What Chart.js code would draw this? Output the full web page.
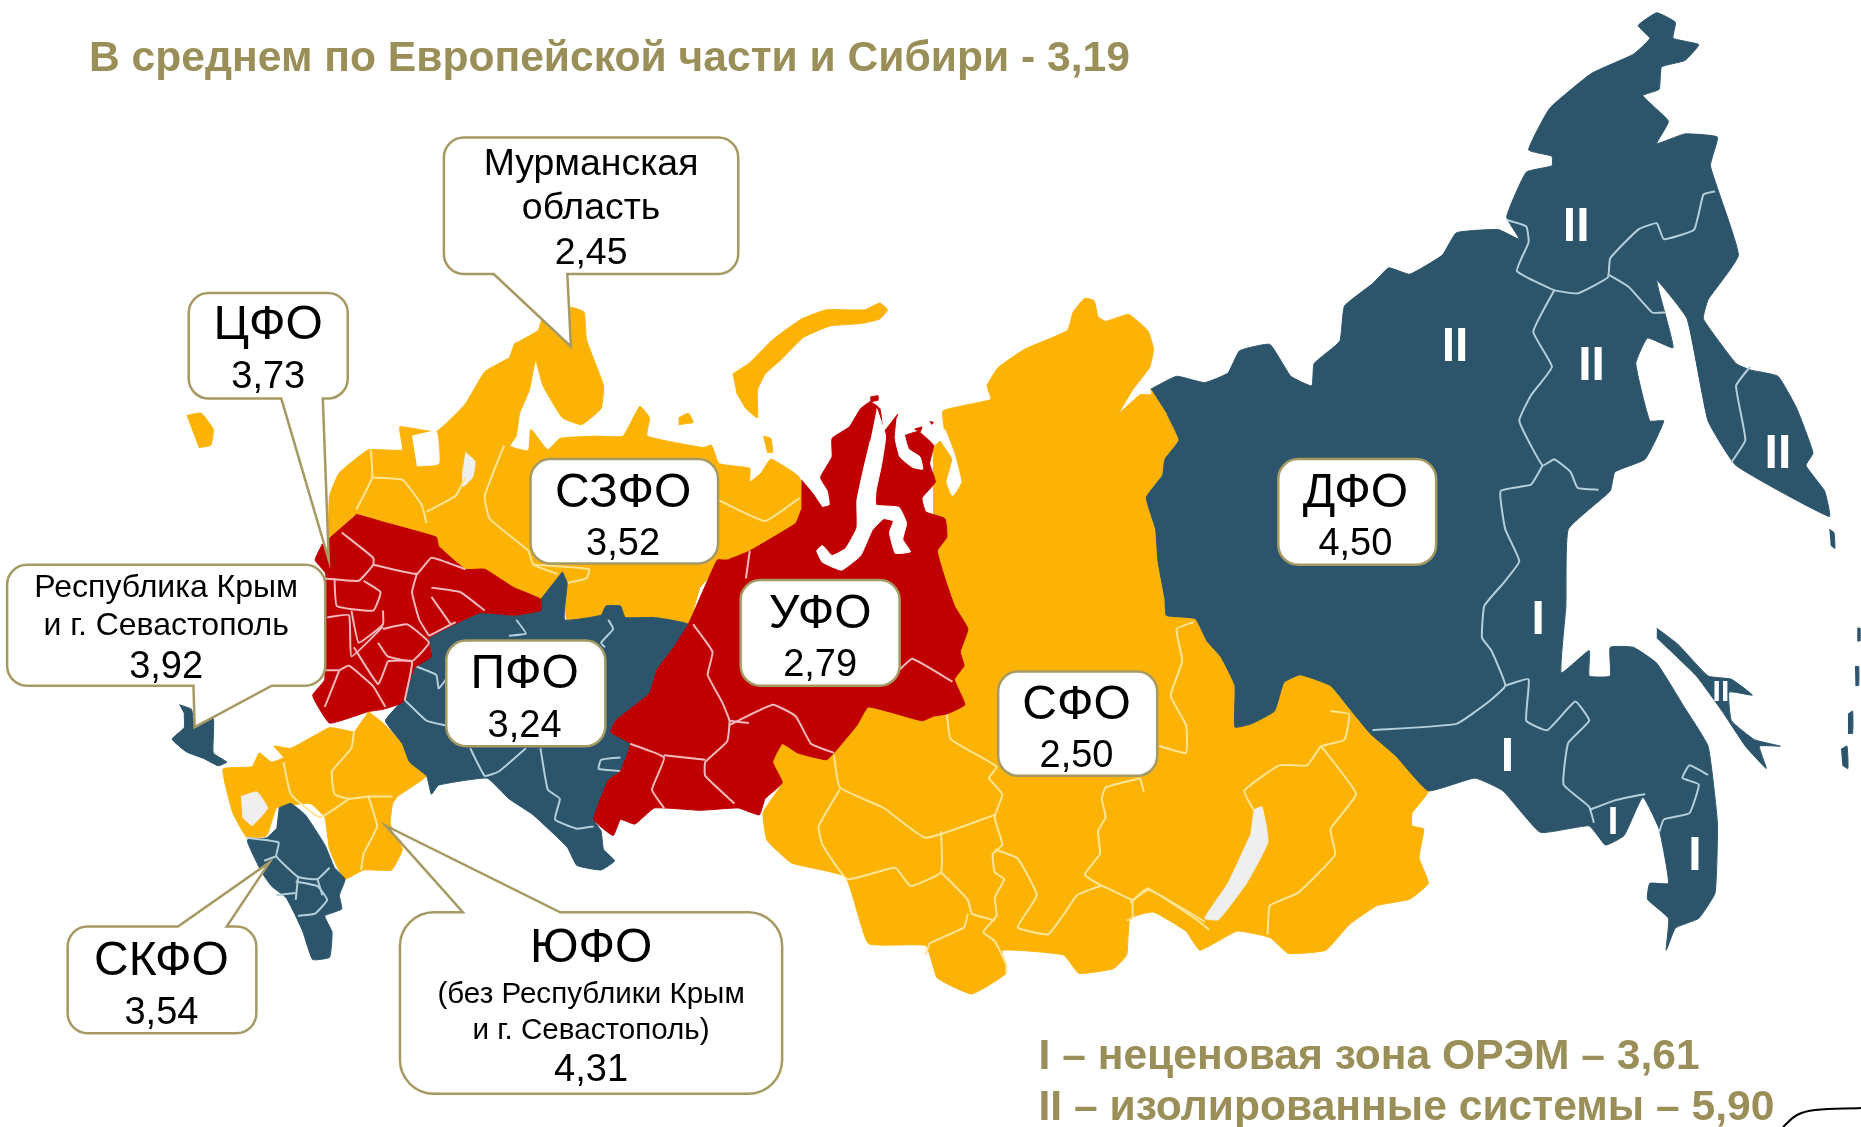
<!DOCTYPE html>
<html lang="ru">
<head>
<meta charset="UTF-8">
<title>Карта федеральных округов</title>
<script src="https://cdn.jsdelivr.net/npm/chart.js"></script>
<style>
  html, body { margin: 0; padding: 0; background: #fff; }
  canvas { display: block; }
</style>
</head>
<body>
<canvas id="map" width="1861" height="1127"></canvas>
<script>
// значения по округам
const districts = ['ЦФО', 'СЗФО', 'ПФО', 'УФО', 'СФО', 'ДФО', 'СКФО', 'ЮФО'];
const districtValues = ['3,73', '3,52', '3,24', '2,79', '2,50', '4,50', '3,54', '4,31'];
const murmanskValue = '2,45';
const crimeaValue = '3,92';
const titleText = 'В среднем по Европейской части и Сибири - 3,19';
const zoneTexts = ['I – неценовая зона ОРЭМ – 3,61', 'II – изолированные системы – 5,90'];

const c1 = p => p.map(([a, b]) => ({x: a / 2.063, y: 280 + b / 2.178}));
const c2 = p => p.map(([a, b]) => ({x: 700 + a / 2.613, y: 280 + b / 2.178}));
const c3 = p => p.map(([a, b]) => ({x: 1130 + a / 2.145, y: b / 1.568}));
const m = (x, y) => ({x: x * 1861 / 1568, y: y * 1127 / 950});

const RED = '#C00000', YELLOW = '#FDB206', BLUE = '#2C546B';
const PALE_Y = '#FFE596', PALE_R = '#F3B9BE', PALE_B = '#B4CFDC';

const szfo = [...c1([[1060,140],[1110,110],[1120,80],[1180,60],[1205,70],[1210,130],[1245,230],[1240,280],[1200,315],[1160,300],[1120,230],[1105,175],[1092,240],[1072,290],[1065,340],[1052,362],[1090,372],[1095,325],[1130,370],[1155,345],[1230,340],[1285,340],[1320,275],[1340,300],[1335,340],[1450,365]]),
  ...c2([[30,360],[50,400],[130,410],[130,440],[160,420],[185,390],[260,430],[265,500],[250,530],[130,590],[70,610],[0,670]]),
  ...c1([[1420,750],[1350,735],[1290,735],[1280,710],[1250,710],[1240,730],[1170,740],[1165,680],[1160,640],[1115,695],[1060,670],[1000,630],[960,630],[905,580],[900,560],[800,530],[735,510],[680,560],[680,470],[700,420],[760,370],[830,370],[825,320],[900,330],[960,270],[1000,200],[1050,170]])];
const kaliningrad = c1([[385,295],[415,290],[440,325],[435,360],[410,365]]);
const novayaZemlya = c2([[85,205],[130,180],[190,130],[265,85],[330,65],[430,65],[470,50],[490,65],[470,85],[420,95],[340,100],[270,125],[210,175],[170,205],[150,240],[150,300],[120,280],[95,245]]);
const kolguev = c1([[1400,300],[1420,290],[1430,310],[1400,315]]);
const vaygach = c2([[165,340],[185,345],[190,375],[175,375]]);
const ladoga = c1([[850,340],[900,330],[905,400],[860,405]]);
const onega = c1([[960,375],[980,395],[975,430],[955,450],[955,410]]);

const yufo = c1([[760,940],[790,965],[830,1010],[845,1050],[880,1080],[820,1125],[810,1140],[805,1185],[830,1240],[808,1285],[750,1285],[710,1305],[680,1240],[670,1170],[640,1140],[590,1145],[570,1150],[550,1210],[510,1215],[480,1160],[460,1065],[520,1060],[535,1030],[560,1050],[585,1040],[565,1015],[600,1020],[680,975],[730,985]]);
const azov = c1([[497,1125],[530,1115],[552,1150],[520,1188],[500,1170]]);
const skfo = c1([[575,1150],[600,1140],[630,1165],[670,1230],[690,1280],[712,1305],[700,1340],[705,1370],[670,1385],[685,1420],[680,1475],[645,1480],[625,1420],[610,1385],[590,1345],[560,1320],[540,1290],[510,1220],[550,1215],[570,1195]]);
const crimea = c1([[370,925],[395,935],[402,975],[440,955],[440,1030],[468,1050],[450,1058],[420,1042],[385,1028],[355,1000],[380,975],[380,945]]);

const cfo = c1([[735,510],[800,530],[900,560],[905,580],[960,630],[1000,630],[1060,670],[1115,695],[1115,720],[1060,730],[990,725],[885,780],[890,820],[855,845],[830,920],[790,935],[760,940],[680,965],[645,905],[670,870],[672,640],[650,610],[665,575]]);
const pfo = c1([[1160,635],[1170,660],[1165,740],[1240,730],[1250,710],[1280,710],[1290,735],[1350,735],[1420,750],[1390,800],[1355,850],[1340,900],[1270,960],[1260,985],[1300,1010],[1280,1070],[1255,1090],[1225,1175],[1240,1200],[1245,1240],[1268,1265],[1240,1285],[1190,1275],[1170,1235],[1100,1165],[1050,1130],[1005,1085],[905,1100],[890,1120],[880,1080],[845,1050],[830,1010],[795,960],[830,915],[855,845],[890,810],[885,780],[990,725],[1060,730],[1115,720],[1115,695]]);
const ufo = [...c2([[265,435],[295,465],[320,495],[340,490],[335,460],[315,430],[345,385],[345,345],[390,320],[420,280],[445,265],[470,280],[480,330],[520,290],[525,340],[570,330],[610,360],[600,400],[615,440],[580,475],[590,505],[640,520],[645,560],[620,590],[640,650],[665,710],[700,760],[680,810],[690,840],[665,870],[692,925],[645,945],[610,950],[580,960],[440,930],[410,970],[350,1030],[330,1045],[255,1030],[215,1010],[190,1050],[215,1095],[170,1130],[155,1165],[100,1150],[0,1155]]),
  ...c1([[1350,1150],[1310,1185],[1280,1175],[1265,1210],[1225,1175],[1255,1090],[1280,1070],[1300,1010],[1260,985],[1270,960],[1340,900],[1355,850],[1390,800],[1420,750]]),
  ...c2([[45,610],[70,610],[130,590],[250,530],[265,500]])];
const obGulf = c2([[462,280],[485,340],[475,400],[460,460],[460,490],[520,495],[540,530],[530,565],[550,592],[510,595],[495,550],[505,525],[480,520],[450,545],[420,600],[370,632],[320,615],[305,590],[320,578],[345,600],[380,585],[410,540],[410,480],[425,420],[445,350]]);
const tazGulf = c2([[520,285],[535,340],[545,368],[575,385],[582,412],[555,408],[522,385],[510,345],[515,300]]);
const islets = [c2([[445,255],[465,252],[465,262],[445,265]]), c2([[560,325],[580,320],[575,332]]), c2([[600,308],[610,310],[605,315]])];

const sfo = [...c2([[615,360],[640,340],[635,285],[760,260],[750,230],[780,190],[850,150],[960,110],[975,70],[1005,40],[1030,45],[1040,80],[1060,90],[1120,75],[1170,110],[1185,150],[1175,190],[1130,240],[1095,290],[1150,250],[1180,250]]),
  ...c3([[45,610],[80,650],[105,690],[75,720],[70,745],[35,780],[55,830],[60,880],[75,940],[78,965],[140,970],[165,1005],[195,1030],[225,1075],[225,1140],[260,1135],[310,1115],[330,1070],[365,1058],[430,1075],[470,1110],[515,1150],[570,1185],[640,1240],[605,1275],[605,1295],[630,1300],[620,1345],[640,1385],[600,1410],[530,1420],[470,1450],[420,1490],[340,1495],[300,1470],[230,1460],[150,1490],[120,1460],[50,1430],[0,1440]]),
  ...c2([[1115,1470],[1080,1500],[990,1510],[950,1470],[790,1460],[800,1510],[710,1555],[620,1520],[590,1450],[440,1445],[380,1300],[240,1270],[175,1220],[165,1160],[215,1095],[190,1050],[215,1010],[255,1030],[400,900],[600,700],[610,360]])];
const yeniseiGulf = c2([[640,325],[665,380],[682,440],[660,470],[645,440],[660,390],[625,345]]);
const baikal = c3([[265,1270],[283,1265],[296,1320],[250,1385],[190,1442],[160,1440],[210,1385],[258,1310]]);

const dfo = c3([[45,610],[100,590],[160,600],[210,585],[235,550],[300,540],[345,590],[390,605],[395,570],[450,535],[460,480],[520,445],[555,420],[600,430],[670,400],[700,365],[790,360],[835,375],[808,340],[850,270],[905,260],[905,245],[855,235],[900,170],[990,115],[1080,85],[1115,60],[1090,40],[1130,20],[1170,35],[1165,60],[1220,70],[1190,95],[1140,105],[1135,140],[1100,150],[1155,190],[1130,225],[1190,210],[1260,215],[1245,260],[1305,400],[1240,470],[1230,500],[1300,570],[1330,580],[1390,590],[1430,640],[1465,710],[1450,730],[1490,770],[1500,810],[1300,730],[1240,660],[1195,500],[1130,440],[1165,545],[1110,530],[1085,570],[1115,660],[1145,660],[1105,720],[1040,740],[1030,770],[940,830],[935,950],[925,1055],[985,1020],[985,1060],[1030,1060],[1030,1015],[1080,1015],[1130,1040],[1190,1110],[1240,1170],[1260,1290],[1255,1400],[1220,1440],[1170,1455],[1150,1490],[1155,1440],[1110,1410],[1115,1385],[1155,1385],[1135,1300],[1100,1250],[1060,1310],[1020,1325],[985,1295],[880,1305],[800,1240],[740,1220],[640,1240],[570,1185],[515,1150],[470,1110],[430,1075],[365,1058],[330,1070],[310,1115],[260,1135],[225,1140],[225,1075],[195,1030],[165,1005],[140,970],[78,965],[75,940],[60,880],[55,830],[35,780],[70,745],[75,720],[105,690],[80,650]]);
const sakhalin = c3([[1130,985],[1175,1010],[1240,1060],[1290,1065],[1335,1090],[1285,1085],[1290,1130],[1340,1160],[1395,1170],[1350,1170],[1365,1205],[1320,1170],[1270,1115],[1215,1060],[1130,1000]]);
const kurils = [c3([[1500,830],[1510,835],[1512,860],[1503,855]]), c3([[1555,1045],[1563,1045],[1563,1075],[1556,1075]]), c3([[1540,1120],[1550,1115],[1550,1150],[1540,1150]]), c3([[1525,1175],[1538,1170],[1540,1205],[1528,1200]]), c3([[1560,985],[1566,985],[1566,1005],[1560,1005]])];

// границы субъектов внутри округов
const cfoLines = [[[705,550],[770,605],[770,620],[740,655],[670,650]],[[770,620],[860,640],[890,605],[960,630]],[[860,640],[850,680],[865,740],[885,775]],[[690,650],[695,710],[770,720],[785,680],[750,655]],[[725,720],[740,790],[790,750],[790,720]],[[675,735],[720,730],[725,820],[790,755]],[[790,760],[840,750],[885,790],[850,830],[800,820],[780,790]],[[730,800],[780,880],[800,830]],[[700,850],[720,840],[770,885],[795,930]],[[700,850],[670,930]],[[890,670],[950,680],[1000,720]],[[890,690],[930,750]],[[800,830],[850,830],[835,915]],[[885,775],[940,745]],[[672,850],[700,850]]].map(c1);
const szfoLines = [...[[[765,370],[768,430],[735,500]],[[768,430],[830,435],[870,490],[880,530]],[[880,505],[940,470],[960,430]],[[1040,360],[1000,470],[1010,520],[1090,590],[1100,620],[1150,640]],[[1100,620],[1215,630],[1210,650],[1170,660]]].map(c1), c2([[50,480],[170,525],[260,475]])];
const yufoLines = [[[730,985],[725,1020],[685,1070],[690,1120],[720,1130],[760,1125],[810,1125]],[[585,1050],[600,1120],[660,1170],[720,1130]],[[760,1125],[778,1190],[750,1250],[745,1285]]].map(c1);
const skfoLines = [[[510,1215],[575,1225],[570,1255],[615,1300],[655,1305],[680,1280]],[[570,1255],[545,1265]],[[615,1300],[610,1350]],[[610,1310],[655,1320],[675,1350],[650,1380],[615,1385]],[[655,1305],[665,1340]],[[570,1340],[610,1335]]].map(c1);
const pfoLines = [[[835,915],[880,960],[920,970]],[[970,1020],[1000,1080],[1030,1070],[1085,1020]],[[1115,1020],[1130,1110],[1155,1130],[1145,1175],[1190,1195],[1225,1190]],[[1065,740],[1085,770],[1050,775]],[[1255,740],[1265,760],[1240,790],[1248,800]],[[855,840],[900,860],[905,890],[920,870]],[[1280,1040],[1240,1045],[1235,1065],[1285,1070]]].map(c1);
const ufoLines = [...[[[1430,750],[1470,810],[1460,860],[1490,920],[1505,960],[1500,1005],[1455,1050],[1455,1080],[1515,1140]],[[1300,1010],[1370,1040],[1345,1110],[1370,1150]],[[1370,1035],[1455,1045]],[[1505,960],[1545,965]]].map(c1), ...[[[130,590],[120,650]],[[75,970],[190,925],[250,950],[290,1010],[350,1030]],[[520,850],[555,825],[660,875]]].map(c2)];
const sfoLines = [...[[[1290,745],[1245,760],[1260,830],[1230,905],[1270,970],[1270,1030],[1200,1015]],[[645,945],[655,1000],[775,1060],[755,1085],[790,1120],[770,1170],[790,1230],[765,1250],[770,1290],[795,1305],[770,1345],[775,1385],[740,1420],[770,1440],[800,1490],[800,1510]],[[350,1035],[365,1105],[480,1150],[590,1215],[770,1165]],[[365,1110],[310,1190],[320,1230],[385,1305],[510,1280],[550,1320],[630,1290],[630,1200]],[[630,1290],[700,1350],[710,1380],[770,1395]],[[700,1380],[690,1410],[600,1445],[590,1470]],[[770,1240],[830,1260],[880,1340],[830,1410],[910,1425],[960,1370],[985,1340],[1050,1320],[1130,1350],[1170,1325],[1300,1395],[1330,1415]],[[1130,1350],[1130,1390],[1115,1395]],[[1150,1085],[1060,1105],[1050,1130],[1060,1170],[1040,1200],[1045,1250],[1005,1295],[1050,1320]],[[1150,1085],[1160,1115]]].map(c2), ...[[[430,1115],[470,1120],[460,1160],[410,1170],[380,1200],[320,1200],[245,1240],[265,1270]],[[410,1170],[485,1245],[430,1300],[440,1340],[360,1400],[300,1420],[295,1465]],[[160,1445],[40,1395],[0,1415]]].map(c3)];
const dfoLines = [[[808,345],[850,355],[855,380],[830,425],[910,455],[960,460],[1025,435],[1030,405],[1090,360],[1130,350],[1145,375],[1210,360],[1230,305],[1255,300]],[[1025,430],[1070,450],[1120,490],[1150,490]],[[910,455],[865,520],[905,575],[860,620],[835,660],[885,730],[910,720],[945,740],[960,765],[1005,768]],[[885,730],[860,760],[795,770],[805,830],[835,880],[800,915],[760,950],[755,1000],[775,1020],[805,1075],[770,1100],[700,1135],[520,1145]],[[805,1075],[855,1065],[850,1130],[895,1145],[955,1100],[985,1130],[940,1165],[930,1230],[985,1265],[995,1290]],[[985,1270],[1040,1255],[1105,1245]],[[1240,1215],[1200,1200],[1185,1220],[1220,1230],[1200,1275],[1145,1285],[1135,1305]],[[1330,575],[1300,605],[1320,690],[1290,725]]].map(c3);

const bracket = [{x: 1783, y: 1127}, {x: 1797, y: 1115}, {x: 1815, y: 1110}, {x: 1861, y: 1108}];

// порядок снизу вверх
const layers = [];
const shape = (pts, color) => layers.push({data: pts, showLine: true, fill: 'shape', backgroundColor: color, borderColor: color, borderWidth: 1, pointRadius: 0, tension: 0.12});
const lines = (list, color) => list.forEach(pts => layers.push({data: pts, showLine: true, fill: false, borderColor: color, borderWidth: 2, pointRadius: 0, tension: 0.12}));

[szfo, kaliningrad, novayaZemlya, kolguev, vaygach, yufo, sfo].forEach(s => shape(s, YELLOW));
shape(ladoga, '#fff'); shape(onega, '#EFEFEF'); shape(azov, '#EFEFEF'); shape(yeniseiGulf, '#fff'); shape(baikal, '#EFEFEF');
lines(szfoLines, PALE_Y); lines(yufoLines, PALE_Y); lines(sfoLines, PALE_Y);
[pfo, skfo, crimea, dfo, sakhalin, ...kurils].forEach(s => shape(s, BLUE));
lines(pfoLines, PALE_B); lines(skfoLines, PALE_B); lines(dfoLines, PALE_B);
[ufo, cfo, ...islets].forEach(s => shape(s, RED));
shape(obGulf, '#fff'); shape(tazGulf, '#fff');
lines(cfoLines, PALE_R); lines(ufoLines, PALE_R);
layers.push({data: bracket, showLine: true, fill: false, borderColor: '#000', borderWidth: 2, pointRadius: 0, tension: 0.4});

// выноски: рамка, хвост и строки текста
const BIG = 48, MID = 38;
const val = name => districtValues[districts.indexOf(name)];
const callouts = [
  {box: [159,247,293,336], tail: [[237,336],[277,472],[272,336]], text: [['ЦФО',226,275,BIG],[val('ЦФО'),226,318,MID]]},
  {box: [374,116,622,231], tail: [[416,231],[481,292],[478,231]], text: [['Мурманская',498,139,37.4],['область',498,176,37.4],[murmanskValue,498,214,37.4]]},
  {box: [447,387,605,475], text: [['СЗФО',525,416,BIG],[val('СЗФО'),525,459,MID]]},
  {box: [6,476,274,578], tail: [[163,578],[164,613],[229,578]], text: [['Республика Крым',140,496,32],['и г. Севастополь',140,528,32],[crimeaValue,140,563,MID]]},
  {box: [376,540,510,629], text: [['ПФО',442,569,BIG],[val('ПФО'),442,612,MID]]},
  {box: [624,489,758,578], text: [['УФО',691,518,BIG],[val('УФО'),691,561,MID]]},
  {box: [841,566,975,654], text: [['СФО',907,595,BIG],[val('СФО'),907,638,MID]]},
  {box: [1077,387,1210,476], text: [['ДФО',1142,416,BIG],[val('ДФО'),1142,459,MID]]},
  {box: [57,781,216,871], tail: [[150,781],[227,727],[191,781]], text: [['СКФО',136,811,BIG],[val('СКФО'),136,854,MID]]},
  {box: [337,769,659,922], r: 34, tail: [[390,769],[325,696],[472,769]], text: [['ЮФО',498,800,BIG],['(без Республики Крым',498,839,29.6],['и г. Севастополь)',498,869,29.6],[val('ЮФО'),498,902,MID]]}
];

// римские метки зон
const zoneMarks = [['II',1328,192,48],['II',1226,293,48],['II',1341,309,48],['II',1498,383,48],['I',1296,523,48],['II',1450,584,30],['I',1270,639,48],['I',1359,694,38],['I',1428,722,48]];

const overlay = {
  id: 'overlay',
  afterDatasetsDraw(chart) {
    const {ctx, scales: {x, y}} = chart;
    const px = (a, b) => { const p = m(a, b); return [x.getPixelForValue(p.x), y.getPixelForValue(p.y)]; };
    ctx.save();
    ctx.textAlign = 'center';
    ctx.textBaseline = 'middle';

    ctx.fillStyle = '#fff';
    zoneMarks.forEach(([t, a, b, s]) => {
      ctx.font = `bold ${s}px "Liberation Sans"`;
      ctx.fillText(t, ...px(a, b));
    });

    callouts.forEach(c => {
      const [l, t] = px(c.box[0], c.box[1]);
      const [r, b] = px(c.box[2], c.box[3]);
      const rad = c.r || 20;
      ctx.beginPath();
      ctx.moveTo(l + rad, t);
      if (c.tail && c.tail[0][1] === c.box[1]) c.tail.forEach(p => ctx.lineTo(...px(p[0], p[1])));
      ctx.arcTo(r, t, r, b, rad);
      ctx.arcTo(r, b, l, b, rad);
      if (c.tail && c.tail[0][1] === c.box[3]) [...c.tail].reverse().forEach(p => ctx.lineTo(...px(p[0], p[1])));
      ctx.arcTo(l, b, l, t, rad);
      ctx.arcTo(l, t, r, t, rad);
      ctx.closePath();
      ctx.fillStyle = '#fff';
      ctx.fill();
      ctx.strokeStyle = '#A59A63';
      ctx.lineWidth = 2.5;
      ctx.stroke();
      ctx.fillStyle = '#000';
      c.text.forEach(([s, a, bb, size]) => {
        ctx.font = `${size}px "Liberation Sans"`;
        ctx.fillText(s, ...px(a, bb));
      });
    });

    ctx.fillStyle = '#9A8F58';
    ctx.textAlign = 'left';
    ctx.font = 'bold 42.6px "Liberation Sans"';
    ctx.fillText(titleText, ...px(75, 50));
    ctx.fillText(zoneTexts[0], ...px(875, 891));
    ctx.fillText(zoneTexts[1], ...px(875, 934));
    ctx.restore();
  }
};

new Chart(document.getElementById('map'), {
  type: 'scatter',
  data: {datasets: layers.slice().reverse()},
  plugins: [overlay],
  options: {
    responsive: false,
    animation: false,
    layout: {padding: 0},
    plugins: {legend: {display: false}, tooltip: {enabled: false}},
    scales: {
      x: {type: 'linear', min: 0, max: 1861, display: false},
      y: {type: 'linear', min: 0, max: 1127, reverse: true, display: false}
    }
  }
});
</script>
</body>
</html>
